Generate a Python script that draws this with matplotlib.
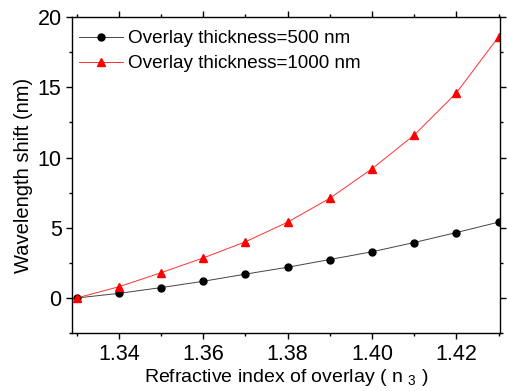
import numpy as np
import matplotlib
matplotlib.use('Agg')
import matplotlib.pyplot as plt
from matplotlib.ticker import MultipleLocator

plt.rcParams['font.family'] = ['Liberation Sans', 'DejaVu Sans']
plt.rcParams['mathtext.fontset'] = 'custom'
plt.rcParams['mathtext.rm'] = 'Liberation Sans'
plt.rcParams['mathtext.it'] = 'Liberation Sans'

# data
n3 = [1.33, 1.34, 1.35, 1.36, 1.37, 1.38, 1.39, 1.40, 1.41, 1.42, 1.43]
shift_500 = [0.0, 0.33, 0.74, 1.19, 1.7, 2.19, 2.74, 3.29, 3.95, 4.66, 5.4]
shift_1000 = [0.0, 0.8, 1.8, 2.85, 4.0, 5.4, 7.1, 9.2, 11.6, 14.6, 18.6]

fig = plt.figure(figsize=(5.07, 3.91), dpi=100)
ax = fig.add_axes([0.142, 0.148, 0.844, 0.8085])

ax.plot(n3, shift_500, color='#444444', lw=0.7, marker='o', ms=5,
        mfc='black', mec='black', label='Overlay thickness=500 nm')
ax.plot(n3, shift_1000, color='#ff3030', lw=0.7, marker='^', ms=6,
        mfc='red', mec='red', label='Overlay thickness=1000 nm')

ax.set_xlim(1.3289, 1.4303)
ax.set_ylim(-2.5, 20)
ax.xaxis.set_major_locator(MultipleLocator(0.02))
ax.xaxis.set_minor_locator(MultipleLocator(0.01))
ax.yaxis.set_major_locator(MultipleLocator(5))
ax.yaxis.set_minor_locator(MultipleLocator(2.5))
ax.xaxis.set_major_formatter(matplotlib.ticker.FormatStrFormatter('%.2f'))

ax.tick_params(which='both', direction='out', top=True, right=True,
               labeltop=False, labelright=False, width=1.0, labelsize=15.5)
ax.tick_params(which='major', length=4.5, pad=3)
ax.tick_params(which='minor', length=2.5)
for s in ax.spines.values():
    s.set_linewidth(1.0)

ax.set_xlabel(r'Refractive index of overlay ( n $_{3}$ )', fontsize=14, labelpad=2)
ax.set_ylabel('Wavelength shift (nm)', fontsize=14.5, labelpad=3)

ax.legend(loc='upper left', bbox_to_anchor=(-0.014, 1.0), frameon=False,
          fontsize=13.6, handlelength=2.3, handletextpad=0.3,
          borderaxespad=0.2, borderpad=0.5, labelspacing=0.4)

fig.savefig('out.png', dpi=100)
